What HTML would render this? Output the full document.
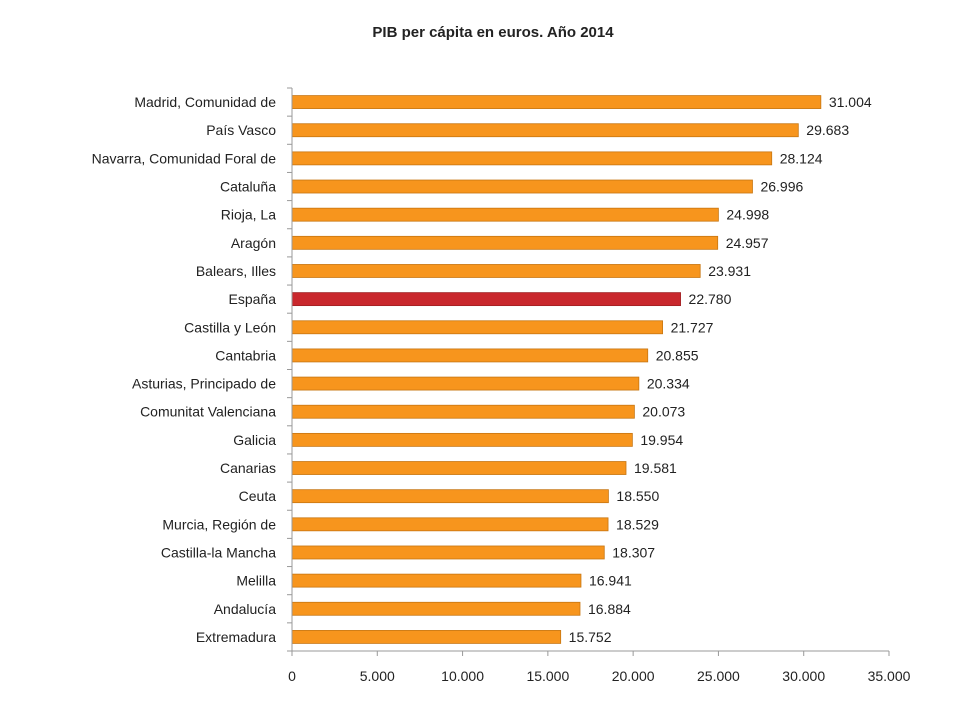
<!DOCTYPE html>
<html><head><meta charset="utf-8"><style>
body{margin:0;background:#fff;}
svg text{font-family:"Liberation Sans",sans-serif;fill:#222;}
</style></head><body>
<svg width="960" height="720" viewBox="0 0 960 720" xmlns="http://www.w3.org/2000/svg" id="chart">
<text x="493" y="37" text-anchor="middle" font-size="15" font-weight="bold">PIB per cápita en euros. Año 2014</text>
</svg>
<script>
const categories=["Madrid, Comunidad de","País Vasco","Navarra, Comunidad Foral de","Cataluña","Rioja, La","Aragón","Balears, Illes","España","Castilla y León","Cantabria","Asturias, Principado de","Comunitat Valenciana","Galicia","Canarias","Ceuta","Murcia, Región de","Castilla-la Mancha","Melilla","Andalucía","Extremadura"];
const values=[31004,29683,28124,26996,24998,24957,23931,22780,21727,20855,20334,20073,19954,19581,18550,18529,18307,16941,16884,15752];
const highlight=["España"];
const ticks=[0,5000,10000,15000,20000,25000,30000,35000];
const tickLabels=["0","5.000","10.000","15.000","20.000","25.000","30.000","35.000"];
const NS="http://www.w3.org/2000/svg";
const svg=document.getElementById('chart');
const x0=292,x1=889,xmax=35000,plotTop=88,plotBottom=651;
const band=(plotBottom-plotTop)/categories.length;
const sx=v=>x0+(x1-x0)*v/xmax;
const sy=i=>plotTop+band*i+band/2;
function mk(t,a){const e=document.createElementNS(NS,t);for(const k in a)e.setAttribute(k,a[k]);svg.appendChild(e);return e;}
const fmt=v=>String(v).replace(/\B(?=(\d{3})+(?!\d))/g,'.');
categories.forEach((c,i)=>{
  const y=sy(i);
  const hl=highlight.includes(c);
  const r=mk('rect',{x:x0,y:y-6.5,width:sx(values[i])-x0,height:13,fill:hl?'#c9282d':'#f7951d',stroke:hl?'#9e1f22':'#c77612','stroke-width':0.8});
  
  
  const l=mk('text',{x:276,y:y+5,'text-anchor':'end','font-size':14});
  l.textContent=c;
  
  
  const v=mk('text',{x:sx(values[i])+8,y:y+5,'font-size':14});
  v.textContent=fmt(values[i]);
  
  
});
for(let i=0;i<=categories.length;i++){
  const t=mk('line',{x1:x0-5,x2:x0,y1:plotTop+band*i,y2:plotTop+band*i,stroke:'#999'});
  
  
}
const ya=mk('line',{x1:x0,x2:x0,y1:plotTop,y2:plotBottom,stroke:'#999'});


const xa=mk('line',{x1:x0,x2:x1,y1:plotBottom,y2:plotBottom,stroke:'#999'});


ticks.forEach((t,i)=>{
  const tk=mk('line',{x1:sx(t),x2:sx(t),y1:plotBottom,y2:plotBottom+5,stroke:'#999'});
  
  
  const lb=mk('text',{x:sx(t),y:plotBottom+30,'text-anchor':'middle','font-size':14});
  lb.textContent=tickLabels[i];
  
  
});
</script>
</body></html>
